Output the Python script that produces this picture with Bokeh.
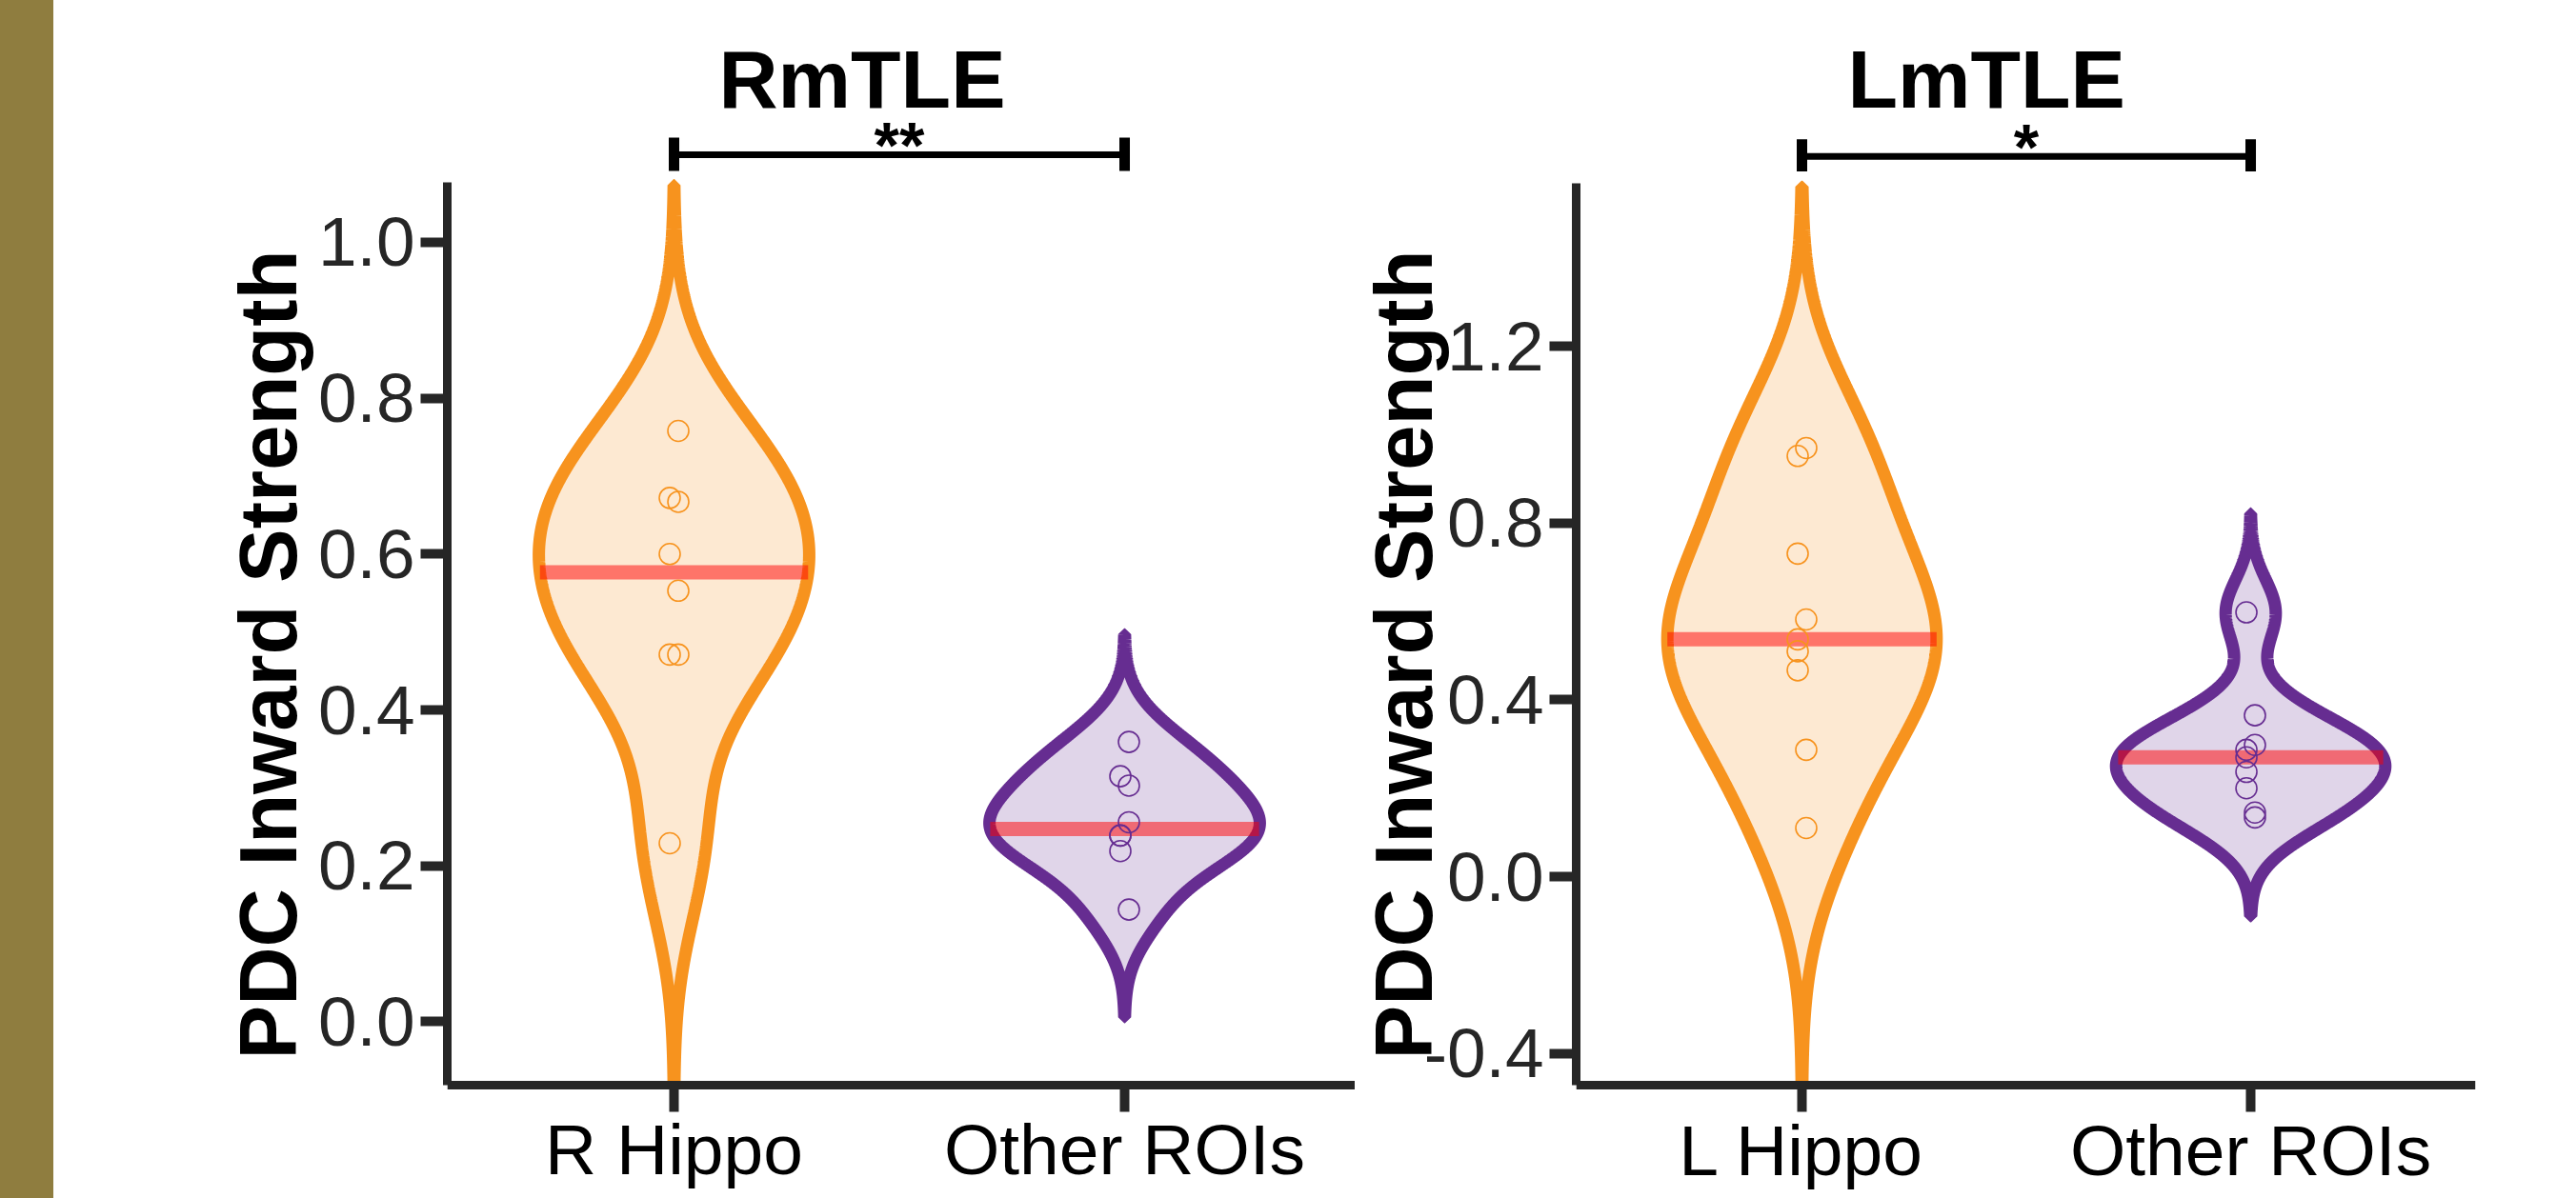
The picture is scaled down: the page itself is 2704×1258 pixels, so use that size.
import numpy as np
from bokeh.plotting import figure
from bokeh.layouts import row
from bokeh.models import Range1d, FixedTicker, PrintfTickFormatter, Title, Div
from bokeh.core.properties import value
from bokeh.embed import file_html
from bokeh.resources import INLINE

# ---------------- data ----------------
rm_groups = ["R Hippo", "Other ROIs"]
lm_groups = ["L Hippo", "Other ROIs"]

rm_hippo = [0.758, 0.672, 0.667, 0.600, 0.553, 0.471, 0.471, 0.229]
rm_hippo_jit = [1, -1, 1, -1, 1, -1, 1, -1]
rm_other = [0.359, 0.315, 0.303, 0.256, 0.239, 0.239, 0.219, 0.144]
rm_other_jit = [1, -1, 1, 1, -1, -1, -1, 1]

lm_hippo = [0.970, 0.952, 0.731, 0.582, 0.537, 0.510, 0.467, 0.287, 0.110]
lm_hippo_jit = [1, -1, -1, 1, -1, -1, -1, 1, 1]
lm_other = [0.598, 0.365, 0.298, 0.287, 0.270, 0.237, 0.200, 0.145, 0.134]
lm_other_jit = [-1, 1, 1, -1, -1, -1, -1, 1, 1]

# kernel bandwidths of the violins
rm_bw = [0.105, 0.046]
lm_bw = [0.197, 0.0745]

rm_ticks = [0.0, 0.2, 0.4, 0.6, 0.8, 1.0]
lm_ticks = [-0.4, 0.0, 0.4, 0.8, 1.2]

rm_title, lm_title = "RmTLE", "LmTLE"
rm_sig, lm_sig = "**", "*"

# ---------------- style ----------------
ORANGE = "#F7931E"
PURPLE = "#662D91"
AXIS = "#262626"
FONT = "Liberation Sans"
GOLD = "#8F7D3F"
HALF_W = 0.3
JIT = 0.0095
H = 1258


def kde_profile(vals, bw, lo_b, hi_b, n=700):
    v = np.asarray(vals, dtype=float)
    lo = max(v.min() - 3 * bw, lo_b)
    hi = min(v.max() + 3 * bw, hi_b)
    ys = np.linspace(lo, hi, n)
    d = np.exp(-0.5 * ((ys[:, None] - v[None, :]) / bw) ** 2).sum(axis=1)
    return ys, HALF_W * d / d.max()


def make_panel(width, mb_left, mb_right, xr, yr, bounds, ticks, groups,
               series, jits, bws, title, sig, sig_y, bar_y, cap_lo, cap_hi,
               label_standoff):
    p = figure(width=width, height=H, x_range=Range1d(*xr),
               y_range=Range1d(*yr), output_backend="svg",
               toolbar_location=None, title=None,
               min_border_left=mb_left, min_border_right=mb_right,
               min_border_top=116, min_border_bottom=0)
    p.outline_line_color = None
    p.grid.visible = False
    p.background_fill_color = "white"
    p.border_fill_color = "white"

    p.add_layout(Title(text=title, align="left", offset=285,
                       vertical_align="bottom", standoff=-28,
                       text_font=FONT, text_font_style="bold",
                       text_font_size="86px", text_color="black"), "above")

    colors = [ORANGE, PURPLE]
    for i, (vals, jit, bw, col) in enumerate(zip(series, jits, bws, colors)):
        c = i + 1
        ys, w = kde_profile(vals, bw, bounds[0], bounds[1])
        xs = np.concatenate([c + w, (c - w)[::-1]])
        yy = np.concatenate([ys, ys[::-1]])
        p.patch(xs, yy, fill_color=col, fill_alpha=0.2, line_color=col,
                line_width=13, line_join="bevel")
        med = float(np.median(vals))
        wm = float(np.interp(med, ys, w))
        p.segment(x0=[c - wm], y0=[med], x1=[c + wm], y1=[med],
                  line_color="#FF0000", line_alpha=0.5, line_width=15)
        px = [c + JIT * j for j in jit]
        p.scatter(px, vals, marker="circle", size=22, fill_color=None,
                  line_color=col, line_width=1.6)

    # significance bracket
    p.segment(x0=[1], y0=[bar_y], x1=[2], y1=[bar_y], line_color="black",
              line_width=7)
    p.segment(x0=[1, 2], y0=[cap_lo, cap_lo], x1=[1, 2], y1=[cap_hi, cap_hi],
              line_color="black", line_width=11)
    p.text(x=[1.5], y=[sig_y], text=[sig], text_font=value(FONT),
           text_font_style="bold", text_font_size="68px", text_align="center",
           text_baseline="alphabetic", text_color="black")

    for ax in (p.xaxis[0], p.yaxis[0]):
        ax.axis_line_width = 9
        ax.axis_line_color = AXIS
        ax.major_tick_line_width = 10
        ax.major_tick_line_color = AXIS
        ax.major_tick_out = 28
        ax.major_tick_in = 0
        ax.minor_tick_line_color = None
        ax.major_label_text_font = FONT

    xa = p.xaxis[0]
    xa.ticker = FixedTicker(ticks=[1, 2])
    xa.major_label_overrides = {1: groups[0], 2: groups[1]}
    xa.major_label_text_color = "black"
    xa.major_label_text_font_size = "75px"
    xa.major_label_standoff = -2
    xa.fixed_location = bounds[0]

    ya = p.yaxis[0]
    ya.ticker = FixedTicker(ticks=ticks)
    ya.formatter = PrintfTickFormatter(format="%.1f")
    ya.bounds = bounds
    ya.major_label_text_color = AXIS
    ya.major_label_text_font_size = "73px"
    ya.major_label_standoff = 6
    ya.axis_label = "PDC Inward Strength"
    ya.axis_label_text_font = FONT
    ya.axis_label_text_font_style = "bold"
    ya.axis_label_text_font_size = "85px"
    ya.axis_label_text_color = "black"
    ya.axis_label_standoff = label_standoff
    return p


# left panel: 818.6 px per unit, zero at page y 1072.5, frame page y 116..1258
pL = make_panel(
    width=1366, mb_left=413, mb_right=0,
    xr=(0.4968, 2.5116), yr=(-0.2266, 1.1684), bounds=(-0.0812, 1.0768),
    ticks=rm_ticks, groups=rm_groups, series=[rm_hippo, rm_other],
    jits=[rm_hippo_jit, rm_other_jit], bws=rm_bw, title=rm_title,
    sig=rm_sig, sig_y=1.125, bar_y=1.1123, cap_lo=1.0915, cap_hi=1.1343,
    label_standoff=2)

# right panel: 464 px per unit, zero at page y 920
pR = make_panel(
    width=1282, mb_left=232, mb_right=106,
    xr=(0.4968, 2.501), yr=(-0.7284, 1.7328), bounds=(-0.4720, 1.568),
    ticks=lm_ticks, groups=lm_groups, series=[lm_hippo, lm_other],
    jits=[lm_hippo_jit, lm_other_jit], bws=lm_bw, title=lm_title,
    sig=lm_sig, sig_y=1.651, bar_y=1.630, cap_lo=1.5957, cap_hi=1.6685,
    label_standoff=-29)

# gold side strip
gold = Div(text="", width=56, height=H, margin=0,
           styles={"background-color": GOLD})

layout = row(gold, pL, pR)
open("out.html", "w").write(file_html(layout, INLINE))
